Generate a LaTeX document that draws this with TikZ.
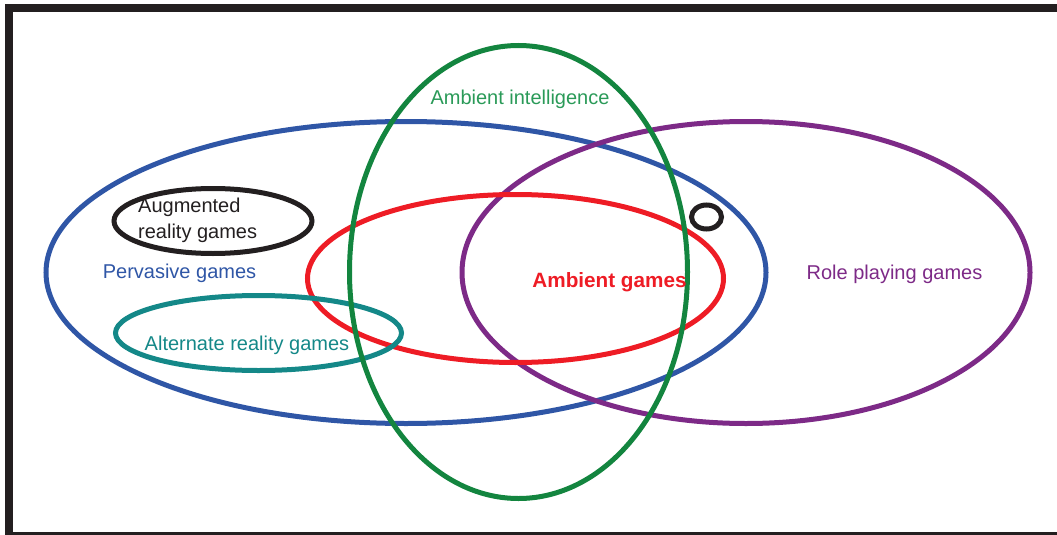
\documentclass[tikz,border=0pt]{standalone}
\usepackage{fontspec}
\setmainfont{Liberation Sans}
\definecolor{pblue}{HTML}{2F56A6}
\definecolor{agreen}{HTML}{13853F}
\definecolor{agreentxt}{HTML}{2A9A58}
\definecolor{rpurple}{HTML}{7D2A87}
\definecolor{ared}{HTML}{EE1C25}
\definecolor{ateal}{HTML}{148888}
\definecolor{ablack}{HTML}{231F20}
\begin{document}
\begin{tikzpicture}[x=1pt,y=-1pt,
  setline/.style={line width=5pt},
  lbl/.style={inner sep=0pt,anchor=base,font=\fontsize{20}{23}\selectfont}]
\useasboundingbox (0,0) rectangle (1057,535);
% frame
\draw[ablack,line width=8pt] (8.5,535) -- (8.5,8) -- (1057,8);
\draw[ablack,line width=2.5pt] (8.5,533.5) -- (1057,533.5);
% sets
\draw[setline,pblue] (406,272.5) ellipse [x radius=360pt,y radius=151pt];
\draw[setline,rpurple] (746,272.5) ellipse [x radius=284pt,y radius=151pt];
\draw[setline,ared] (515.5,278.5) ellipse [x radius=208pt,y radius=84pt];
\draw[setline,ateal] (258.5,333) ellipse [x radius=143pt,y radius=37.5pt];
\draw[setline,ablack] (213,221) ellipse [x radius=99pt,y radius=32.5pt];
\draw[setline,ablack] (706.5,217) ellipse [x radius=15pt,y radius=12pt];
\draw[setline,agreen] (518.5,272) ellipse [x radius=169pt,y radius=226.5pt];
% labels
\node[lbl,text=agreentxt] (ai) at (520,104) {Ambient intelligence};
\node[lbl,text=ared,font=\fontsize{20.7}{23}\selectfont\bfseries] (ag) at (609.5,287) {Ambient games};
\node[lbl,text=rpurple] (rp) at (894.5,279) {Role playing games};
\node[lbl,text=pblue] (pg) at (179.5,278) {Pervasive games};
\node[lbl,text=ateal] (ar) at (247,350) {Alternate reality games};
\node[lbl,text=ablack,anchor=base west] (au1) at (138,212) {Augmented};
\node[lbl,text=ablack,anchor=base west] (au2) at (138,238) {reality games};
\end{tikzpicture}
\end{document}
